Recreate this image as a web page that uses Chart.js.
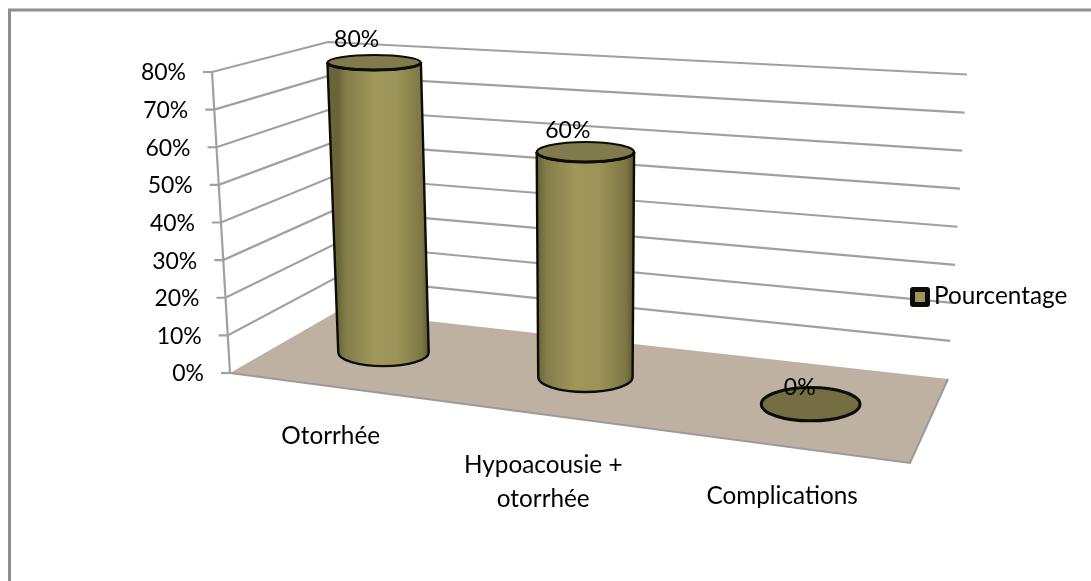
<!DOCTYPE html>
<html>
<head>
<meta charset="utf-8">
<style>
  html, body { margin: 0; padding: 0; background: #fff; }
  canvas { display: block; }
</style>
<script src="https://cdn.jsdelivr.net/npm/chart.js@4"></script>
</head>
<body>
<canvas id="chart" width="1091" height="581"></canvas>
<script>
const categories = ["Otorrhée", "Hypoacousie + otorrhée", "Complications"];
const categoryLines = [["Otorrhée"], ["Hypoacousie +", "otorrhée"], ["Complications"]];
const seriesName = "Pourcentage";
const seriesValues = [80, 60, 0];
const yTicks = [0, 10, 20, 30, 40, 50, 60, 70, 80];

const FONT_NUM = "23px Lato";
const FONT_TEXT = "24.3px Lato";
const GRID = "#a0a0a0";

// corners of the fake 3D box, the chart area gives the front left bottom one
const frontLeftTop = { x: 212, y: 72 };
const backLeftTop = { x: 328, y: 42 };
const backLeftBottom = { x: 338, y: 311 };
const backRightTop = { x: 967, y: 74.5 };
const backRightBottom = { x: 948, y: 379 };
const frontRightBottom = { x: 910, y: 463 };
const frontRightLift = { x: 9, y: -325 };

const lerp = (a, b, t) => ({ x: a.x + (b.x - a.x) * t, y: a.y + (b.y - a.y) * t });

// homography from the unit floor (u along categories, d into the depth) to the screen
function floorProjector(p00) {
  const p10 = frontRightBottom, p11 = backRightBottom, p01 = backLeftBottom;
  const dx1 = p10.x - p11.x, dx2 = p01.x - p11.x, sx = p00.x - p10.x + p11.x - p01.x;
  const dy1 = p10.y - p11.y, dy2 = p01.y - p11.y, sy = p00.y - p10.y + p11.y - p01.y;
  const det = dx1 * dy2 - dx2 * dy1;
  const g = (sx * dy2 - dx2 * sy) / det;
  const h = (dx1 * sy - sx * dy1) / det;
  const a = p10.x - p00.x + g * p10.x, b = p01.x - p00.x + h * p01.x;
  const c = p10.y - p00.y + g * p10.y, e = p01.y - p00.y + h * p01.y;
  return (u, d) => {
    const w = 1 + g * u + h * d;
    return { x: (a * u + b * d + p00.x) / w, y: (c * u + e * d + p00.y) / w, w: w };
  };
}

function drawCylinder(ctx, base, top, rx, ryBase, ryTop, flat) {
  ctx.strokeStyle = "#0d0c06";
  if (flat) {
    ctx.beginPath();
    ctx.ellipse(base.x, base.y, rx, ryBase, 0, 0, Math.PI * 2);
    ctx.fillStyle = "#756e42";
    ctx.fill();
    ctx.lineWidth = 3;
    ctx.stroke();
    return;
  }
  const rxTop = rx + 1.5;
  const grad = ctx.createLinearGradient(base.x - rx, 0, base.x + rx, 0);
  grad.addColorStop(0, "#6a6539");
  grad.addColorStop(0.08, "#827c49");
  grad.addColorStop(0.4, "#a0975b");
  grad.addColorStop(0.65, "#9c9358");
  grad.addColorStop(0.93, "#7c7644");
  grad.addColorStop(1, "#5f5a32");

  ctx.beginPath();
  ctx.moveTo(top.x - rxTop, top.y);
  ctx.lineTo(base.x - rx, base.y);
  ctx.ellipse(base.x, base.y, rx, ryBase, 0, Math.PI, 0, true);
  ctx.lineTo(top.x + rxTop, top.y);
  ctx.ellipse(top.x, top.y, rxTop, ryTop, 0, 0, Math.PI, false);
  ctx.closePath();
  ctx.fillStyle = grad;
  ctx.fill();
  ctx.lineWidth = 2.4;
  ctx.stroke();

  ctx.beginPath();
  ctx.ellipse(top.x, top.y, rxTop, ryTop, 0, 0, Math.PI * 2);
  ctx.fillStyle = "#807a4c";
  ctx.fill();
  ctx.lineWidth = 2;
  ctx.stroke();
  ctx.beginPath();
  ctx.ellipse(top.x, top.y, rxTop, ryTop, 0, 0, Math.PI, false);
  ctx.lineWidth = 3;
  ctx.stroke();
}

const scene3d = {
  id: "scene3d",
  beforeDatasetsDraw(chart) {
    const { ctx, chartArea: area, scales } = chart;
    const y = scales.y;
    const frontLeftBottom = { x: area.left, y: area.bottom };

    // page frame, only top and left are in the picture
    ctx.save();
    ctx.strokeStyle = "#8f8f8f";
    ctx.lineWidth = 3;
    ctx.beginPath();
    ctx.moveTo(9.5, 581);
    ctx.lineTo(9.5, 10);
    ctx.lineTo(1091, 10);
    ctx.stroke();

    // floor
    ctx.beginPath();
    ctx.moveTo(frontLeftBottom.x, frontLeftBottom.y);
    ctx.lineTo(backLeftBottom.x, backLeftBottom.y);
    ctx.lineTo(backRightBottom.x, backRightBottom.y);
    ctx.lineTo(frontRightBottom.x, frontRightBottom.y);
    ctx.closePath();
    ctx.fillStyle = "#bfb1a2";
    ctx.fill();
    ctx.beginPath();
    ctx.moveTo(backRightBottom.x, backRightBottom.y);
    ctx.lineTo(frontRightBottom.x, frontRightBottom.y);
    ctx.lineTo(frontLeftBottom.x, frontLeftBottom.y);
    ctx.strokeStyle = "#9c9a98";
    ctx.lineWidth = 2;
    ctx.stroke();

    // gridlines on the two walls, tick marks and tick labels
    ctx.strokeStyle = GRID;
    ctx.lineWidth = 2.2;
    ctx.font = FONT_NUM;
    ctx.fillStyle = "#000";
    ctx.textAlign = "right";
    ctx.textBaseline = "middle";
    yTicks.forEach((v) => {
      const t = (area.bottom - y.getPixelForValue(v)) / (area.bottom - area.top);
      const a = lerp(frontLeftBottom, frontLeftTop, t);
      const b = lerp(backLeftBottom, backLeftTop, t);
      const c = lerp(backRightBottom, backRightTop, t);
      ctx.beginPath();
      ctx.moveTo(a.x - 9, a.y);
      ctx.lineTo(a.x, a.y);
      if (v > 0) {
        ctx.lineTo(b.x, b.y);
        ctx.lineTo(c.x, c.y);
      }
      ctx.stroke();
      ctx.fillText(v + "%", a.x - 26, a.y + 1);
    });
    ctx.beginPath();
    ctx.moveTo(frontLeftBottom.x, frontLeftBottom.y);
    ctx.lineTo(frontLeftTop.x, frontLeftTop.y);
    ctx.stroke();
    ctx.restore();
  },
  afterDatasetsDraw(chart) {
    const { ctx, chartArea: area } = chart;
    const project = floorProjector({ x: area.left, y: area.bottom });
    const bars = chart.getDatasetMeta(0).data;
    const leftLift = { x: frontLeftTop.x - area.left, y: frontLeftTop.y - area.bottom };
    const backLeftLift = { x: backLeftTop.x - backLeftBottom.x, y: backLeftTop.y - backLeftBottom.y };
    const backRightLift = { x: backRightTop.x - backRightBottom.x, y: backRightTop.y - backRightBottom.y };
    const depth = 0.5, radiusDepth = 0.21;

    ctx.save();
    bars.forEach((bar) => {
      const u = (bar.x - area.left) / (area.right - area.left);
      const t = (bar.base - bar.y) / (area.bottom - area.top);
      const p = project(u, depth);
      const base = { x: p.x + 3, y: p.y + 1 };
      const lift = lerp(lerp(leftLift, backLeftLift, depth), lerp(frontRightLift, backRightLift, depth), u);
      const top = { x: base.x + lift.x * t, y: base.y + lift.y * t };
      const rx = 46.5 / Math.pow(p.w, 0.8);
      const ryBase = (project(u, depth - radiusDepth).y - project(u, depth + radiusDepth).y) / 2;
      const ryTop = ryBase * (1 - 0.45 * t);
      drawCylinder(ctx, base, top, rx, ryBase, ryTop, t === 0);
    });

    // data labels go on top of everything
    ctx.font = FONT_NUM;
    ctx.fillStyle = "#000";
    ctx.textBaseline = "middle";
    ctx.textAlign = "right";
    bars.forEach((bar, i) => {
      const u = (bar.x - area.left) / (area.right - area.left);
      const t = (bar.base - bar.y) / (area.bottom - area.top);
      const p = project(u, depth);
      const lift = lerp(lerp(leftLift, backLeftLift, depth), lerp(frontRightLift, backRightLift, depth), u);
      const ry = ((project(u, depth - radiusDepth).y - project(u, depth + radiusDepth).y) / 2) * (1 - 0.45 * t);
      ctx.fillText(seriesValues[i] + "%", p.x + 8 + lift.x * t, p.y + 1 + lift.y * t - 28.3 + 0.67 * ry);
    });

    // category labels under the front edge of the floor
    ctx.font = FONT_TEXT;
    ctx.textAlign = "center";
    ctx.textBaseline = "alphabetic";
    bars.forEach((bar, i) => {
      const u = (bar.x - area.left) / (area.right - area.left);
      const f = project(u, 0);
      categoryLines[i].forEach((line, n) => {
        ctx.fillText(line, f.x + 3, f.y + 58.5 + n * 34);
      });
    });

    // legend
    ctx.fillStyle = "#0d0c06";
    ctx.beginPath();
    ctx.roundRect(910, 287, 20, 20, 3);
    ctx.fill();
    ctx.fillStyle = chart.data.datasets[0].legendColor;
    ctx.fillRect(915, 292, 10, 10);
    ctx.fillStyle = "#000";
    ctx.textAlign = "left";
    ctx.fillText(seriesName, 934, 304);
    ctx.restore();
  }
};

new Chart(document.getElementById("chart"), {
  type: "bar",
  data: {
    labels: categories,
    datasets: [{
      label: seriesName,
      data: seriesValues,
      backgroundColor: "rgba(0,0,0,0)",
      legendColor: "#9e9559"
    }]
  },
  options: {
    responsive: false,
    animation: false,
    layout: { padding: { left: 230, right: 181, top: 72, bottom: 208 } },
    plugins: { legend: { display: false }, tooltip: { enabled: false } },
    scales: {
      x: { display: false },
      y: { display: false, min: 0, max: 80 }
    }
  },
  plugins: [scene3d]
});
</script>
</body>
</html>
